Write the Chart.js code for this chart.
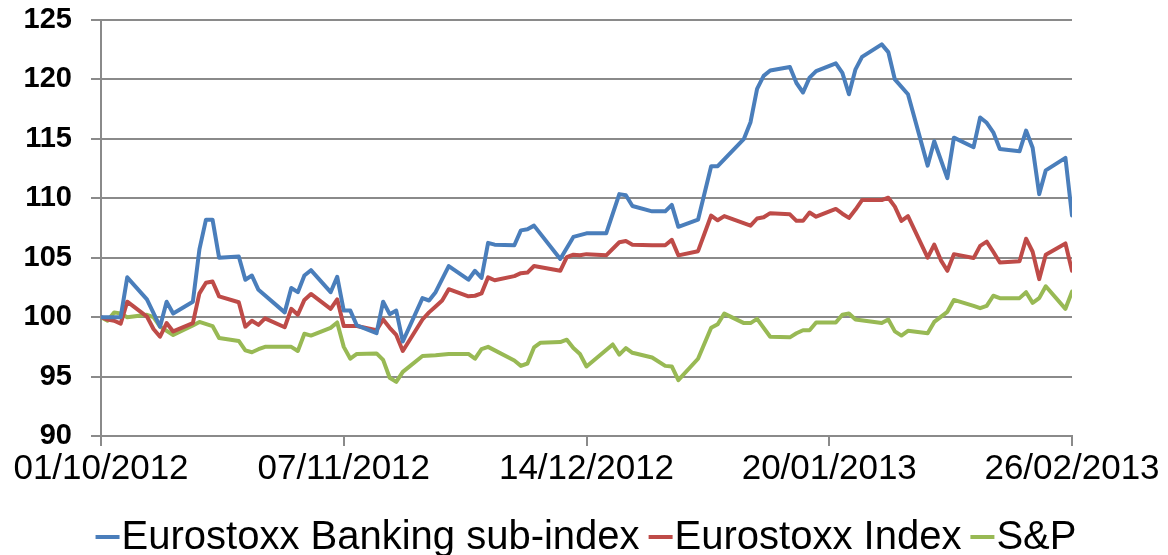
<!DOCTYPE html>
<html><head><meta charset="utf-8">
<script src="https://cdn.jsdelivr.net/npm/chart.js@4"></script>
<style>html,body{margin:0;padding:0;background:#fff}</style>
</head><body>
<canvas id="c" width="1168" height="555" style="width:1168px;height:555px;display:block"></canvas>
<script>
// x positions are days since 01/10/2012
const tickDays = [0, 37, 74, 111, 148];
const tickLabels = ['01/10/2012', '07/11/2012', '14/12/2012', '20/01/2013', '26/02/2013'];
const yTicks = [90, 95, 100, 105, 110, 115, 120, 125];
const seriesNames = ['Eurostoxx Banking sub-index', 'Eurostoxx Index', 'S&P'];

const bankDays = [0,3,4,7,9,10,11,14,15,16,17,18,21,22,23,24,28,29,30,31,32,35,36,37,38,39,42,43,44,45,46,49,50,51,53,56,57,58,59,60,63,64,65,66,70,72,73,74,77,79,80,81,84,86,87,88,91,93,94,98,99,100,101,102,105,106,107,108,109,112,113,114,115,116,119,120,121,123,126,127,129,130,133,134,135,136,137,140,141,142,143,144,147,148];
const bankValues = [100,100,103.35,101.5,99.2,101.3,100.3,101.3,105.7,108.2,108.2,105.0,105.1,103.15,103.5,102.3,100.4,102.45,102.1,103.5,103.95,102.1,103.4,100.55,100.55,99.3,98.65,101.3,100.25,100.55,97.95,101.6,101.4,102.1,104.3,103.15,103.9,103.3,106.25,106.1,106.05,107.3,107.4,107.7,104.9,106.75,106.9,107.05,107.05,110.35,110.25,109.35,108.9,108.9,109.45,107.6,108.2,112.7,112.7,115.0,116.4,119.2,120.3,120.75,121.05,119.7,118.9,120.15,120.7,121.35,120.55,118.75,120.85,121.9,122.95,122.3,120.0,118.75,112.75,114.8,111.7,115.1,114.3,116.8,116.35,115.55,114.15,113.95,115.7,114.25,110.35,112.35,113.4,108.55];

const euroDays = [0,1,2,3,4,7,8,9,10,11,14,15,16,17,18,21,22,23,24,25,28,29,30,31,32,35,36,37,39,42,43,44,45,46,49,50,51,52,53,56,57,58,59,60,63,64,65,66,70,71,72,73,74,77,79,80,81,84,86,87,88,91,93,94,95,99,100,101,102,105,106,107,108,109,112,113,114,115,116,119,120,121,122,123,126,127,128,129,130,133,134,135,136,137,140,141,142,143,144,147,148];
const euroValues = [100,99.8,99.7,99.45,101.3,100.05,99.0,98.35,99.5,98.8,99.5,102.0,102.9,103.0,101.75,101.25,99.2,99.7,99.35,99.9,99.15,100.7,100.2,101.45,101.95,100.7,101.5,99.25,99.25,98.9,99.8,99.1,98.5,97.15,99.8,100.4,100.9,101.4,102.35,101.75,101.8,102.0,103.35,103.1,103.45,103.7,103.75,104.3,103.9,105.05,105.25,105.2,105.3,105.2,106.3,106.4,106.1,106.05,106.05,106.5,105.2,105.55,108.55,108.15,108.5,107.7,108.3,108.4,108.75,108.65,108.1,108.1,108.8,108.45,109.1,108.7,108.35,109.05,109.85,109.85,110.05,109.3,108.1,108.5,105.0,106.1,104.8,103.9,105.3,104.97,106.0,106.35,105.5,104.6,104.7,106.6,105.5,103.2,105.25,106.2,103.9];

const spDays = [0,1,2,3,4,7,8,9,11,14,15,17,18,21,22,23,24,25,28,29,30,31,32,35,36,37,38,39,42,43,44,45,46,49,51,53,56,57,58,59,63,64,65,66,67,70,71,72,73,74,78,79,80,81,84,86,87,88,91,93,94,95,98,99,100,102,105,106,107,108,109,112,113,114,115,119,120,121,122,123,126,127,129,130,133,134,135,136,137,140,141,142,143,144,147,148];
const spValues = [100,99.7,100.4,100.3,100.0,100.2,100.0,99.2,98.5,99.3,99.6,99.25,98.25,98.0,97.2,97.05,97.3,97.5,97.5,97.5,97.15,98.6,98.45,99.1,99.55,97.5,96.5,96.9,96.95,96.4,94.9,94.55,95.4,96.73,96.8,96.9,96.9,96.5,97.3,97.5,96.35,95.9,96.1,97.45,97.85,97.9,98.1,97.4,96.9,95.85,97.7,96.85,97.4,97.0,96.6,95.9,95.85,94.7,96.5,99.1,99.4,100.3,99.5,99.5,99.85,98.35,98.3,98.64,98.9,98.9,99.55,99.55,100.2,100.3,99.8,99.5,99.8,98.8,98.45,98.85,98.65,99.6,100.45,101.45,100.95,100.75,100.95,101.8,101.6,101.6,102.1,101.2,101.6,102.6,100.7,102.15];

const colors = ['#4A7EBB', '#BE4B48', '#98B954'];
const pts = (d, v) => d.map((x, i) => ({x: x, y: v[i]}));
const FONT = "'Liberation Sans', Arial, sans-serif";

// legend drawn below the axis: swatch line right before each label
const bottomLegend = {
  id: 'bottomLegend',
  afterDraw(chart) {
    const ctx = chart.ctx;
    ctx.save();
    ctx.font = '40px ' + FONT;
    ctx.textBaseline = 'middle';
    ctx.fillStyle = '#000';
    const sw = 24, gapT = 2, gapI = 9, y = 537;
    const items = chart.data.datasets.map(d => ({t: d.label, c: d.borderColor, w: ctx.measureText(d.label).width}));
    const total = items.reduce((a, it) => a + sw + gapT + it.w, 0) + gapI * (items.length - 1);
    let x = chart.width / 2 + 2 - total / 2;
    items.forEach(it => {
      ctx.strokeStyle = it.c; ctx.lineWidth = 4; ctx.lineCap = 'butt';
      ctx.beginPath(); ctx.moveTo(x, y); ctx.lineTo(x + sw, y); ctx.stroke();
      x += sw + gapT;
      ctx.fillText(it.t, x, y + 1);
      x += it.w + gapI;
    });
    ctx.restore();
  }
};

new Chart(document.getElementById('c'), {
  type: 'line',
  data: {
    datasets: [
      {label: seriesNames[0], data: pts(bankDays, bankValues), borderColor: colors[0], backgroundColor: colors[0], borderWidth: 4},
      {label: seriesNames[1], data: pts(euroDays, euroValues), borderColor: colors[1], backgroundColor: colors[1], borderWidth: 4},
      {label: seriesNames[2], data: pts(spDays, spValues), borderColor: colors[2], backgroundColor: colors[2], borderWidth: 4}
    ]
  },
  plugins: [bottomLegend],
  options: {
    responsive: false, animation: false, devicePixelRatio: 1,
    layout: {padding: {top: 20, right: 96, left: 0, bottom: 60}},
    elements: {point: {radius: 0}, line: {tension: 0, borderJoinStyle: 'round', borderCapStyle: 'round'}},
    plugins: {
      legend: {display: false},
      tooltip: {enabled: false}
    },
    scales: {
      x: {
        type: 'linear', min: 0, max: 148,
        afterBuildTicks: s => { s.ticks = tickDays.map(v => ({value: v})); },
        ticks: {callback: v => tickLabels[tickDays.indexOf(v)], font: {family: FONT, size: 35}, color: '#000', maxRotation: 0, autoSkip: false, padding: 2},
        grid: {drawOnChartArea: false, tickLength: 10, color: '#8a8a8a', lineWidth: 2},
        border: {color: '#8a8a8a', width: 2},
        afterFit: s => { s.height = 59; }
      },
      y: {
        min: 90, max: 125,
        afterBuildTicks: s => { s.ticks = yTicks.map(v => ({value: v})); },
        ticks: {font: {family: FONT, size: 29, weight: 'bold'}, color: '#000', padding: 19},
        grid: {color: '#8a8a8a', lineWidth: 2, tickLength: 10},
        border: {color: '#8a8a8a', width: 2},
        afterFit: s => { s.width = 101; s.paddingTop = 0; s.paddingBottom = 0; }
      }
    }
  }
});
</script>
</body></html>
